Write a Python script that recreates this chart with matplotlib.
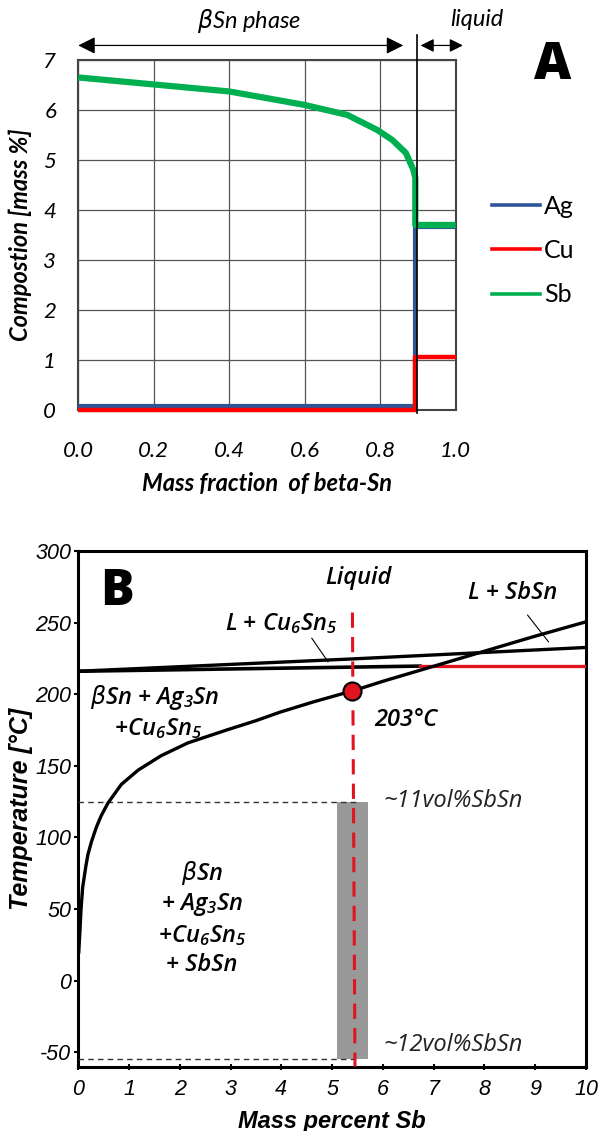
import numpy as np
import matplotlib.pyplot as plt
from matplotlib.lines import Line2D

plt.rcParams['font.family'] = ['Lato', 'DejaVu Sans']
plt.rcParams['axes.unicode_minus'] = False

# ---- panel A data: composition of beta-Sn vs mass fraction
frac_sb = [0.0, 0.2, 0.4, 0.6, 0.713, 0.792, 0.832, 0.868, 0.888, 0.893, 0.893, 1.0]
comp_sb = [6.65, 6.51, 6.37, 6.10, 5.90, 5.60, 5.40, 5.14, 4.80, 4.64, 3.70, 3.70]
frac_ag = [0.0, 0.893, 0.893, 1.0]
comp_ag = [0.07, 0.07, 3.65, 3.65]
frac_cu = [0.0, 0.893, 0.893, 1.0]
comp_cu = [0.0, 0.0, 1.05, 1.05]
x_liq = 0.897

# ---- panel B data: phase diagram section
solvus_x = [0.01, 0.033, 0.053, 0.086, 0.15, 0.19, 0.26, 0.355, 0.45, 0.585, 0.848, 1.18,
            1.63, 2.16, 2.95, 3.5, 3.97, 4.63, 5.22, 5.40, 6.0, 7.0, 8.0, 9.0, 10.0]
solvus_t = [20, 35, 49, 65, 80, 88, 97, 107, 115, 124, 137, 147,
            157, 166, 175.3, 181.5, 187.4, 194.6, 200.5, 202.2, 209, 219.5, 230, 240.5, 250.5]
liq_up_x = [0.0, 5.4, 10.0]
liq_up_t = [216, 224.6, 232.6]
liq_lo_x = [0.0, 6.73]
liq_lo_t = [216, 219.6]
red_x = [6.73, 10.0]
red_t = [219.6, 219.6]
alloy_x = [5.40, 5.45]
alloy_t = [257, -60]
dot_x, dot_t = 5.40, 202.2
band_x = [5.1, 5.71]
band_t = [-55, 124.7]
vol_t = [124.7, -54.4]

fig = plt.figure(figsize=(6.02, 11.31), dpi=100)

# ================= A =================
ax = fig.add_axes([0.130, 0.6375, 0.627, 0.3095])
ax.set_xlim(0, 1)
ax.set_ylim(0, 7)
ax.set_xticks(np.arange(0, 1.01, 0.2), ['0.0', '0.2', '0.4', '0.6', '0.8', '1.0'],
              fontsize=16, style='italic')
ax.set_yticks(range(8), [str(i) for i in range(8)], fontsize=16, style='italic')
ax.grid(True, color='#555555', lw=0.9)
for s in ax.spines.values():
    s.set_color('#444444')
    s.set_linewidth(1.5)
ax.tick_params(axis='y', length=0, pad=16)
ax.tick_params(axis='x', length=0, pad=22)

ax.plot(frac_ag, comp_ag, color='#2e5597', lw=3, solid_capstyle='butt', clip_on=False, zorder=3)
ax.plot(frac_cu, comp_cu, color='#ff0000', lw=3.2, solid_capstyle='butt', clip_on=False, zorder=4)
ax.plot(frac_sb, comp_sb, color='#00b050', lw=4.5, solid_capstyle='butt', clip_on=False, zorder=5)
ax.plot([x_liq, x_liq], [-0.06, 7.5], color='black', lw=1.2, clip_on=False, zorder=6)

arr = dict(arrowstyle='<|-|>', color='black', lw=0.9, mutation_scale=26, shrinkA=0, shrinkB=0)
ax.annotate('', xy=(0.0, 7.29), xytext=(0.861, 7.29), arrowprops=arr, annotation_clip=False)
ax.annotate('', xy=(0.907, 7.29), xytext=(1.019, 7.29), arrowprops=dict(arr, mutation_scale=20),
            annotation_clip=False)
ax.text(0.452, 7.77, r'$\beta$Sn phase', ha='center', va='center', fontsize=17, style='italic')
ax.text(1.056, 7.8, 'liquid', ha='center', va='center', fontsize=17, style='italic')
ax.text(1.257, 6.88, 'A', ha='center', va='center', fontsize=37, fontweight='heavy',
        family=['Open Sans'])

ax.set_xlabel('Mass fraction  of beta-Sn', fontsize=17, style='italic', fontweight='bold', labelpad=8)
ax.set_ylabel('Compostion [mass %]', fontsize=17, style='italic', fontweight='bold', labelpad=8)

handles = [Line2D([], [], color='#2e5597', lw=2.6),
           Line2D([], [], color='#ff0000', lw=2.6),
           Line2D([], [], color='#00b050', lw=2.6)]
ax.legend(handles, ['Ag', 'Cu', 'Sb'], loc='center left', bbox_to_anchor=(1.095, 0.455),
          frameon=False, fontsize=18, handlelength=1.95, handletextpad=0.15, labelspacing=0.85,
          borderpad=0, borderaxespad=0)

# ================= B =================
tick_kw = dict(family='Liberation Sans', style='italic', size=15.5)
bx = fig.add_axes([0.130, 0.0569, 0.8434, 0.456])
bx.set_xlim(0, 10)
bx.set_ylim(-60, 300)
bx.set_xticks(range(11), [str(i) for i in range(11)], **tick_kw)
bx.set_yticks(range(-50, 301, 50), [str(i) for i in range(-50, 301, 50)], **tick_kw)
for s in bx.spines.values():
    s.set_linewidth(2.2)
bx.tick_params(axis='y', direction='out', length=3, width=1.5, pad=2)
bx.tick_params(axis='x', direction='inout', length=4, width=1.5, pad=7)

bx.fill_between(band_x, band_t[0], band_t[1], color='#999999', lw=0, zorder=2)
bx.plot([0, 5.52], [vol_t[0], vol_t[0]], color='#333333', lw=1, ls=(0, (4, 3)), zorder=3)
bx.plot([0, 5.52], [vol_t[1], vol_t[1]], color='#333333', lw=1, ls=(0, (4, 3)), zorder=3)
bx.plot(liq_up_x, liq_up_t, color='black', lw=2.4, zorder=4)
bx.plot(liq_lo_x, liq_lo_t, color='black', lw=2.6, zorder=4)
bx.plot(red_x, red_t, color='#e0141e', lw=2.4, zorder=4)
bx.plot(solvus_x, solvus_t, color='black', lw=2.4, zorder=4)
bx.plot(alloy_x, alloy_t, color='#e0141e', lw=2.2, ls=(0, (5, 3)), zorder=5)
bx.plot(dot_x, dot_t, 'o', ms=13, mfc='#e0141e', mec='black', mew=1.5, zorder=6)

# leader lines
bx.plot([4.60, 4.92], [239, 222.6], color='black', lw=0.8, zorder=4)
bx.plot([8.85, 9.26], [255.2, 236.6], color='black', lw=0.8, zorder=4)

tkw = dict(ha='center', va='center', fontsize=17, style='italic', fontweight='semibold',
           family=['Open Sans', 'DejaVu Sans'])
bx.text(0.76, 271, 'B', ha='center', va='center', fontsize=36, fontweight='heavy',
        family=['Open Sans'])
bx.text(5.52, 281, 'Liquid', **tkw)
bx.text(8.55, 270.4, 'L + SbSn', **tkw)
bx.text(4.0, 249.4, r'L + Cu$\mathregular{_6}$Sn$\mathregular{_5}$', **tkw)
bx.text(1.51, 198, r'$\beta$Sn + Ag$\mathregular{_3}$Sn', **tkw)
bx.text(1.58, 176, r'+Cu$\mathregular{_6}$Sn$\mathregular{_5}$', **tkw)
bx.text(6.45, 182.3, '203°C', **tkw)
bx.text(2.44, 74.9, r'$\beta$Sn', **tkw)
bx.text(2.44, 53, r'+ Ag$\mathregular{_3}$Sn', **tkw)
bx.text(2.44, 31.3, r'+Cu$\mathregular{_6}$Sn$\mathregular{_5}$', **tkw)
bx.text(2.44, 10.9, '+ SbSn', **tkw)
vkw = dict(ha='left', va='center', fontsize=17, style='italic', color='#222222',
           family=['Open Sans', 'DejaVu Sans'])
bx.text(6.01, 125.2, '~11vol%SbSn', **vkw)
bx.text(6.01, -45, '~12vol%SbSn', **vkw)

bx.set_xlabel('Mass percent Sb', fontsize=17, style='italic', fontweight='bold',
              family='Liberation Sans', labelpad=7)
bx.set_ylabel('Temperature [°C]', fontsize=18, style='italic', fontweight='bold',
              family='Liberation Sans', labelpad=2)

fig.savefig('out.png', dpi=100)
